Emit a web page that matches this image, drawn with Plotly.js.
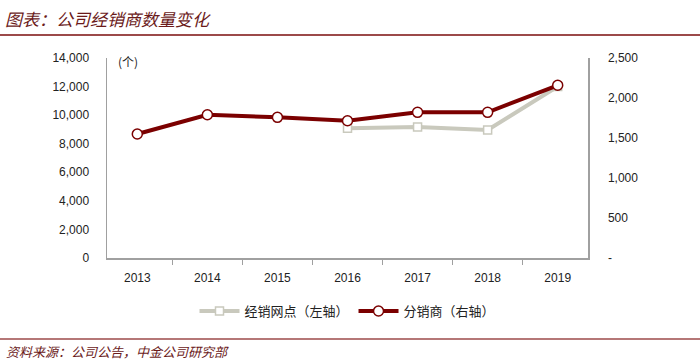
<!DOCTYPE html>
<html>
<head>
<meta charset="utf-8">
<script src="https://cdn.plot.ly/plotly-3.0.1.min.js"></script>
<style>html,body{margin:0;padding:0;background:#fff;}#chart{width:700px;height:360px;}</style>
</head>
<body>
<div id="chart"></div>
<script>
const years = ['2013','2014','2015','2016','2017','2018','2019'];
const outlets = [null, null, null, 9080, 9170, 8960, 12000];      // 经销网点（左轴）
const distributors = [1550, 1790, 1758, 1716, 1821, 1821, 2159];  // 分销商（右轴）
const leftTicks = [0, 2000, 4000, 6000, 8000, 10000, 12000, 14000];
const rightTicks = [0, 500, 1000, 1500, 2000, 2500];
const rightTickText = ['-', '500', '1,000', '1,500', '2,000', '2,500'];

const W = 481, H = 200, L = 107, T = 58;
const px = x => (x - L) / W;
const py = y => (T + H - y) / H;
const cjk = '"Noto Sans CJK SC", sans-serif';
const num = '"Liberation Sans", Arial, sans-serif';

const traces = [
  {
    x: years, y: outlets, name: '经销网点（左轴）', type: 'scatter', mode: 'lines+markers',
    yaxis: 'y', connectgaps: false,
    line: {color: '#c9c9bd', width: 4},
    marker: {symbol: 'square', size: 8, color: '#ffffff', line: {color: '#c9c9bd', width: 1.5}}
  },
  {
    x: years, y: distributors, name: '分销商（右轴）', type: 'scatter', mode: 'lines+markers',
    yaxis: 'y2',
    line: {color: '#7b0000', width: 4},
    marker: {symbol: 'circle', size: 10, color: '#ffffff', line: {color: '#7b0000', width: 1.5}}
  }
];

const layout = {
  width: 700, height: 360,
  margin: {l: L, r: 700 - L - W, t: T, b: 360 - T - H},
  paper_bgcolor: '#ffffff', plot_bgcolor: '#ffffff',
  showlegend: true,
  title: {
    text: '<i>图表：公司经销商数量变化</i>',
    x: 0.007, xanchor: 'left', xref: 'container',
    y: 1 - 20 / 360, yanchor: 'middle', yref: 'container',
    font: {family: cjk, size: 17, color: '#6b1a1a'}
  },
  xaxis: {
    type: 'category', tickson: 'boundaries', ticks: 'outside', ticklen: 5,
    tickcolor: '#a0a0a0', showline: true, linecolor: '#a0a0a0', linewidth: 1.5,
    showgrid: false, zeroline: false, ticklabelstandoff: 8,
    tickfont: {family: num, size: 12, color: '#222'}
  },
  yaxis: {
    range: [0, 14000], tickvals: leftTicks, tickformat: ',d',
    showline: true, linecolor: '#a0a0a0', linewidth: 1.5, showgrid: false, zeroline: false,
    ticks: '', ticklabelstandoff: 14,
    tickfont: {family: num, size: 12, color: '#222'}
  },
  yaxis2: {
    range: [0, 2500], overlaying: 'y', side: 'right', tickvals: rightTicks, ticktext: rightTickText,
    showline: true, linecolor: '#a0a0a0', linewidth: 1.5, showgrid: false, zeroline: false,
    ticks: '', ticklabelstandoff: 16,
    tickfont: {family: num, size: 12, color: '#222'}
  },
  legend: {
    orientation: 'h', x: 0.5, xanchor: 'center', y: py(311), yanchor: 'middle',
    font: {family: cjk, size: 13, color: '#222'}, itemwidth: 40, traceorder: 'normal',
    bgcolor: 'rgba(0,0,0,0)'
  },
  annotations: [
    {xref: 'paper', yref: 'paper', x: px(128), y: py(61), text: '(个)', showarrow: false,
     font: {family: cjk, size: 12, color: '#222'}, xanchor: 'center', yanchor: 'middle'},
    {xref: 'paper', yref: 'paper', x: px(4), y: py(351), text: '<i>资料来源：公司公告，中金公司研究部</i>', showarrow: false,
     font: {family: cjk, size: 13, color: '#6b1a1a'}, xanchor: 'left', yanchor: 'middle'}
  ],
  shapes: [
    {type: 'line', xref: 'paper', yref: 'paper', x0: px(0), x1: px(700), y0: py(35), y1: py(35),
     line: {color: '#9c4a4a', width: 2}},
    {type: 'line', xref: 'paper', yref: 'paper', x0: px(0), x1: px(700), y0: py(339), y1: py(339),
     line: {color: '#9c4a4a', width: 1.5}}
  ]
};

Plotly.newPlot('chart', traces, layout, {displayModeBar: false, staticPlot: true});
</script>
</body>
</html>
